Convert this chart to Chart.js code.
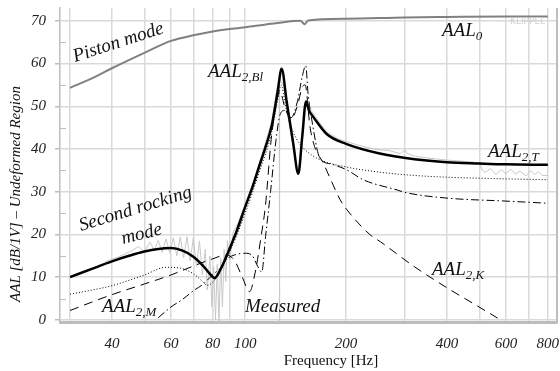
<!DOCTYPE html>
<html>
<head>
<meta charset="utf-8">
<script src="https://cdn.jsdelivr.net/npm/chart.js@4"></script>
<style>
  html, body { margin: 0; padding: 0; background: #fff; }
  canvas { display: block; }
</style>
</head>
<body>
<canvas id="myChart" width="560" height="371"></canvas>
<script>
// AAL_0 / piston mode (grey)
const pistonFreq = [30, 35, 40, 50, 60, 70, 80, 100, 125, 146, 150.5, 154, 200, 300, 400, 600, 800];
const pistonLevel = [54.3, 56.6, 58.9, 62.5, 65.3, 66.6, 67.5, 68.5, 69.5, 70.0, 69.2, 70.1, 70.5, 70.8, 70.9, 71.0, 71.0];

// AAL_2,T total (thick black)
const totalFreq = [30, 35, 40, 45, 50, 55, 60, 65, 70, 75, 78, 81, 84, 88, 94, 100, 105, 110, 115, 120, 125, 128.4, 133, 139, 144, 148, 151.8, 155, 160, 175, 200, 250, 320, 400, 500, 600, 800];
const totalLevel = [10, 12, 13.7, 15, 16, 16.6, 16.8, 16.2, 14.8, 12.6, 11, 9.8, 11.5, 15, 20.5, 26.5, 31, 35.9, 40.5, 45.5, 53.5, 58.8, 51, 41.4, 34.2, 43, 51.1, 49, 47.4, 43.5, 41.2, 39, 37.6, 36.9, 36.6, 36.4, 36.3];

// AAL_2,Bl (dotted)
const blFreq = [30, 35, 40, 50, 58, 64, 70, 74, 77, 80, 84, 90, 100, 110, 120, 125, 128, 132, 136, 142, 150, 167, 200, 250, 320, 400, 600, 800];
const blLevel = [6, 7, 8, 10.5, 12.3, 12.1, 10.8, 9.2, 8.1, 8.8, 11.5, 16, 25, 34.5, 44, 51.5, 55, 50, 46, 42.5, 40, 37.5, 35.8, 34.6, 33.8, 33.4, 33, 32.8];

// AAL_2,K (long dash)
const kFreq = [30, 40, 50, 60, 70, 80, 88, 93, 98, 103, 107, 111.5, 115, 119.5, 124, 127, 131, 137, 143, 148, 151, 156, 161, 171, 180, 192, 201, 236, 253, 319, 402, 480, 567];
const kLevel = [2.2, 5.9, 8.4, 10.5, 12.6, 14.3, 15.2, 13.8, 10, 6.6, 11, 19.5, 27, 42.2, 51, 53.5, 50, 47, 50, 54.5, 55, 45.3, 40.6, 36.7, 32.8, 28.1, 25.8, 19.9, 18.3, 12.5, 7.4, 3.8, 0.4];

// AAL_2,M (dash-dot)
const mFreq = [55, 60, 65, 70, 75, 80, 84, 88, 93, 100, 105, 109, 112, 115, 119, 123.6, 127, 131, 137, 143, 148, 151.5, 154, 158, 167, 180, 201, 225, 284, 305, 400, 600, 800];
const mLevel = [0.5, 3, 4.8, 6.8, 8.4, 10.6, 12, 14.2, 15.2, 15.6, 15, 12.5, 11.2, 19.5, 30, 42.2, 48, 49, 47.3, 51, 57, 59.5, 53, 46.8, 37.9, 36.5, 35.1, 32.8, 30.4, 29.7, 28.5, 27.8, 27.3];

// Measured (light grey, noisy)
const measFreq = [38, 42, 46, 48, 50, 52, 53.5, 55, 56.5, 58, 59.5, 61, 62.5, 64, 65.5, 67, 68.5, 70, 71.5, 73, 74.5, 76, 77, 78.5, 79.5, 80.5, 81.5, 82.5, 83.5, 84.5, 85.5, 86.5, 87.5, 88.5, 90, 92, 95, 100, 105, 110, 115, 120, 124, 126.3, 126.5, 126.8, 130, 134, 139, 144, 148, 152, 156, 162, 175, 190, 200, 215, 230, 250, 270, 290, 300, 304, 320, 350, 400, 450, 500, 510, 520, 540, 560, 580, 600, 620, 640, 660, 690, 710, 730, 750, 770, 800];
const measLevel = [13.5, 14.8, 16.2, 17.2, 16.0, 18.2, 16.2, 18.6, 15.8, 19.0, 15.6, 19.2, 15.0, 19.4, 14.5, 19.5, 13.8, 19.2, 12.5, 18.5, 10.5, 16.5, 7, 15, 3, 12.5, 0, 13, -0.5, 14.5, 3, 16.5, 9, 18.5, 14, 20.5, 22.5, 27, 31.5, 36.5, 41.5, 46.5, 53.5, 57, -0.5, 56.5, 55, 48, 40.5, 34.5, 44, 51.5, 49.5, 47.5, 44, 42.3, 41.8, 41, 40.4, 39.8, 39.6, 38.9, 39.8, 39, 38.3, 37.9, 37.4, 37.1, 36.8, 35, 34.5, 35.4, 34, 35.2, 34.2, 35.3, 34.1, 34.8, 33.7, 34.9, 34, 34.7, 33.8, 33.8];

// axis ticks
const xGrid = [30, 40, 50, 60, 70, 80, 90, 100, 200, 300, 400, 500, 600, 700, 800];
const xLabels = [40, 60, 80, 100, 200, 400, 600, 800];
const yTicks = [0, 5, 10, 15, 20, 25, 30, 35, 40, 45, 50, 55, 60, 65, 70];

const SERIF = '"Liberation Serif", "DejaVu Serif", serif';
const pts = (f, v) => f.map((x, i) => ({ x: x, y: v[i] }));

const drawAAL = (ctx, x, y, sub) => {
    ctx.font = 'italic 19px ' + SERIF;
    ctx.fillText('AAL', x, y);
    const w = ctx.measureText('AAL').width;
    ctx.font = 'italic 13px ' + SERIF;
    ctx.fillText(sub, x + w, y + 4);
};

const decor = {
    id: 'decor',
    afterDraw(chart) {
        const ctx = chart.ctx;
        const a = chart.chartArea;
        const ys = chart.scales.y;
        ctx.save();
        // right frame
        ctx.strokeStyle = '#bdbdbd';
        ctx.lineWidth = 2;
        ctx.beginPath();
        ctx.moveTo(a.right, a.top);
        ctx.lineTo(a.right, a.bottom + 1);
        ctx.stroke();
        // minor y ticks inside
        ctx.lineWidth = 1;
        yTicks.filter(v => v % 10 !== 0).forEach(v => {
            const py = Math.round(ys.getPixelForValue(v)) + 0.5;
            ctx.beginPath();
            ctx.moveTo(a.left, py);
            ctx.lineTo(a.left + 6, py);
            ctx.stroke();
        });

        ctx.fillStyle = '#111';
        ctx.textAlign = 'left';
        ctx.textBaseline = 'alphabetic';

        drawAAL(ctx, 442, 36, '0');
        drawAAL(ctx, 208, 77, '2,Bl');
        drawAAL(ctx, 488, 157, '2,T');
        drawAAL(ctx, 432, 275, '2,K');
        drawAAL(ctx, 102, 312, '2,M');

        ctx.font = 'italic 19px ' + SERIF;
        ctx.fillText('Measured', 245, 312);

        ctx.save();
        ctx.translate(75, 62);
        ctx.rotate(-18 * Math.PI / 180);
        ctx.fillText('Piston mode', 0, 0);
        ctx.restore();

        ctx.save();
        ctx.translate(81, 231);
        ctx.rotate(-17 * Math.PI / 180);
        ctx.fillText('Second rocking', 0, 0);
        ctx.restore();

        ctx.save();
        ctx.translate(123, 244);
        ctx.rotate(-14 * Math.PI / 180);
        ctx.fillText('mode', 0, 0);
        ctx.restore();

        // watermark
        ctx.font = '9px "DejaVu Sans", sans-serif';
        ctx.fillStyle = '#cfcfcf';
        ctx.fillText('KLIPPEL', 510, 24);

        // axis titles
        ctx.fillStyle = '#111';
        ctx.font = '15px ' + SERIF;
        ctx.textAlign = 'center';
        ctx.fillText('Frequency [Hz]', 331, 365);

        ctx.save();
        ctx.translate(20, 194);
        ctx.rotate(-Math.PI / 2);
        ctx.font = 'italic 15px ' + SERIF;
        ctx.fillText('AAL [dB/1V] \u2013 Undeformed Region', 0, 0);
        ctx.restore();

        ctx.restore();
    }
};

const data = {
    datasets: [
        {
            label: 'AAL2,T',
            data: pts(totalFreq, totalLevel),
            borderColor: '#000',
            borderWidth: 2.5,
            order: 0,
        },
        {
            label: 'AAL2,Bl',
            data: pts(blFreq, blLevel),
            borderColor: '#000',
            borderWidth: 1,
            borderDash: [1, 2],
            order: 1,
        },
        {
            label: 'AAL2,K',
            data: pts(kFreq, kLevel),
            borderColor: '#000',
            borderWidth: 1,
            borderDash: [9, 6],
            order: 2,
        },
        {
            label: 'AAL2,M',
            data: pts(mFreq, mLevel),
            borderColor: '#000',
            borderWidth: 1,
            borderDash: [8, 3, 1.5, 3],
            order: 3,
        },
        {
            label: 'AAL0',
            data: pts(pistonFreq, pistonLevel),
            borderColor: '#808080',
            borderWidth: 2,
            order: 4,
        },
        {
            label: 'Measured',
            data: pts(measFreq, measLevel),
            borderColor: '#c8c8c8',
            borderWidth: 1,
            tension: 0,
            cubicInterpolationMode: 'default',
            order: 5,
        },
    ]
};

const config = {
    type: 'line',
    data: data,
    options: {
        responsive: false,
        animation: false,
        devicePixelRatio: 1,
        layout: { padding: { top: 8, right: 3, left: 0, bottom: 0 } },
        elements: {
            point: { radius: 0 },
            line: { cubicInterpolationMode: 'monotone', fill: false },
        },
        plugins: {
            legend: { display: false },
            tooltip: { enabled: false },
        },
        scales: {
            x: {
                type: 'logarithmic',
                min: 28,
                max: 852,
                afterBuildTicks: (scale) => { scale.ticks = xGrid.map(v => ({ value: v })); },
                afterFit: (scale) => {
                    scale.height = 49;
                    scale.paddingLeft = 0;
                    scale.paddingRight = 0;
                },
                ticks: {
                    autoSkip: false,
                    maxRotation: 0,
                    padding: 13,
                    color: '#222',
                    font: { family: SERIF, size: 15, style: 'italic' },
                    callback: (v) => xLabels.includes(v) ? String(v) : '',
                },
                grid: { color: '#dadada', lineWidth: 1.5, drawTicks: false },
                border: { color: '#bdbdbd', width: 3 },
            },
            y: {
                min: -0.5,
                max: 73,
                afterBuildTicks: (scale) => { scale.ticks = yTicks.map(v => ({ value: v })); },
                afterFit: (scale) => {
                    scale.width = 60;
                    scale.paddingTop = 0;
                    scale.paddingBottom = 0;
                },
                ticks: {
                    padding: 9,
                    color: '#222',
                    font: { family: SERIF, size: 15, style: 'italic' },
                    callback: (v) => v % 10 === 0 ? String(v) : '',
                },
                grid: {
                    color: (c) => c.tick && c.tick.value % 10 === 0 ? '#dadada' : 'rgba(0,0,0,0)',
                    tickColor: (c) => c.tick && c.tick.value % 10 === 0 ? '#bdbdbd' : 'rgba(0,0,0,0)',
                    lineWidth: 1.5,
                    tickLength: 5,
                },
                border: { color: '#bdbdbd', width: 1.5 },
            },
        },
    },
    plugins: [decor],
};

new Chart(document.getElementById('myChart'), config);
</script>
</body>
</html>
